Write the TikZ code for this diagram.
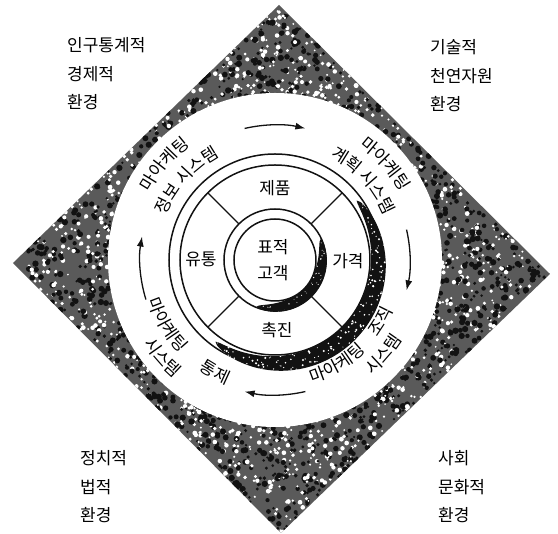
\documentclass[tikz,border=0pt]{standalone}
\usepackage{fontspec}
\setmainfont{Noto Sans CJK KR}
\usepackage{tikz}
\usetikzlibrary{arrows.meta,calc,decorations.text}
\definecolor{ink}{HTML}{121212}
\definecolor{stipplegray}{HTML}{5A5A5A}
\newcommand{\labfont}{\fontsize{17}{28.5}\selectfont}
\newcommand{\midfont}{\fontsize{17}{26}\selectfont}

\tikzset{
  ringline/.style={draw=ink,line width=1.5pt},
  spoke/.style={draw=ink,line width=1.3pt},
  cycarrow/.style={draw=ink,line width=1.3pt,-{Latex[length=10pt,width=7pt]}},
  corner/.style={anchor=west,align=left,inner sep=0pt,font=\labfont},
  mixlabel/.style={inner sep=0pt,align=center,font=\midfont},
  ringtext/.style={decorate,decoration={text along path,text align=center,text={#1}}}
}

\begin{document}
\begin{tikzpicture}[x=1pt,y=1pt]
\useasboundingbox (-275,-274) rectangle (283,260);
\fill[white] (-275,-274) rectangle (283,260);

\coordinate (O) at (0,0);
\coordinate (T) at (4,255);
\coordinate (R) at (275,-14);
\coordinate (B) at (6,-273);
\coordinate (L) at (-262,-3);

% environment (stippled square)
\pgfmathsetseed{42}
\fill[stipplegray,path picture={
  \foreach \k in {1,...,4400}{
    \pgfmathsetmacro\ua{rnd}
    \pgfmathsetmacro\ub{rnd}
    \pgfmathsetmacro\px{-262+266*\ua+268*\ub}
    \pgfmathsetmacro\py{-3+258*\ua-270*\ub}
    \pgfmathsetmacro\dd{veclen(\px/100,\py/100)}
    \pgfmathsetmacro\rr{1.2+2*rnd}
    \pgfmathsetmacro\kk{rnd}
    \ifdim\dd pt>1.64pt
      \ifdim\kk pt<0.55pt
        \fill[ink] (\px,\py) circle[radius=\rr];
      \else
        \fill[white] (\px,\py) circle[radius=0.75*\rr];
      \fi
    \fi
  }}] (T) -- (R) -- (B) -- (L) -- cycle;

\fill[white] (O) circle[radius=167];
\draw[ringline] (O) circle[radius=106];

% mix ring crescent
\fill[ink,path picture={
  \foreach \k in {1,...,160}{
    \pgfmathsetmacro\th{-126+162*rnd}
    \pgfmathsetmacro\rd{96+16*rnd}
    \fill[white] (\th:\rd) circle[radius={0.5+0.7*rnd}];
  }}]
  plot[domain=36:-126,samples=90,smooth] (\x:{101+12*sqrt(abs(sin((36-\x)/162*180)))})
  -- plot[domain=-126:36,samples=90,smooth] (\x:{101-6*sqrt(abs(sin((36-\x)/162*180)))})
  -- cycle;

\draw[ringline,fill=white] (O) circle[radius=95];
\foreach \a in {45,135,225,315}
  \draw[spoke] (\a:51) -- (\a:95);

% target crescent
\fill[ink,path picture={
  \foreach \k in {1,...,40}{
    \pgfmathsetmacro\th{-112+137*rnd}
    \pgfmathsetmacro\rd{42+10*rnd}
    \fill[white] (\th:\rd) circle[radius={0.4+0.5*rnd}];
  }}]
  plot[domain=25:-112,samples=70,smooth] (\x:{51+1.2*sqrt(abs(sin((25-\x)/137*180)))})
  -- plot[domain=-112:25,samples=70,smooth] (\x:{51-11*sqrt(abs(sin((25-\x)/137*180)))})
  -- cycle;
\draw[ringline] (O) circle[radius=51];
\draw[ringline,fill=white] (O) circle[radius=41];

\node[mixlabel] (target) at (-2,0) {표적\\고객};
\node[mixlabel] (product) at (0,72) {제품};
\node[mixlabel] (place) at (-74,1) {유통};
\node[mixlabel] (price) at (73,-1) {가격};
\node[mixlabel] (promo) at (2,-70) {촉진};

% marketing systems ring
\path[ringtext={|\labfont|마아케팅}] (179:142.5) arc[start angle=179,end angle=99,radius=142.5];
\path[ringtext={|\labfont|정보 시스템}] (178:117.5) arc[start angle=178,end angle=98,radius=117.5];
\path[ringtext={|\labfont|마아케팅}] (81:142.5) arc[start angle=81,end angle=1,radius=142.5];
\path[ringtext={|\labfont|계획 시스템}] (82:117.5) arc[start angle=82,end angle=2,radius=117.5];
\path[ringtext={|\labfont|마아케팅}] (-89:128.5) arc[start angle=-89,end angle=-29,radius=128.5];
\path[ringtext={|\labfont|조직}] (-60:128.5) arc[start angle=-60,end angle=0,radius=128.5];
\path[ringtext={|\labfont|시스템}] (-71:150.5) arc[start angle=-71,end angle=-11,radius=150.5];
\path[ringtext={|\labfont|마아케팅}] (181:133.5) arc[start angle=181,end angle=241,radius=133.5];
\path[ringtext={|\labfont|통제}] (212:133.5) arc[start angle=212,end angle=272,radius=133.5];
\path[ringtext={|\labfont|시스템}] (191:155.5) arc[start angle=191,end angle=251,radius=155.5];

\foreach \a/\b in {103/77,13/-13,-77/-103,197/170}
  \draw[cycarrow] (\a:135) arc[start angle=\a,end angle=\b,radius=135];

\node[corner] (demo) at (-208,186) {인구통계적\\경제적\\환경};
\node[corner] (tech) at (155,184) {기술적\\천연자원\\환경};
\node[corner] (polit) at (-195,-227) {정치적\\법적\\환경};
\node[corner] (socio) at (163,-227) {사회\\문화적\\환경};

\end{tikzpicture}
\end{document}
